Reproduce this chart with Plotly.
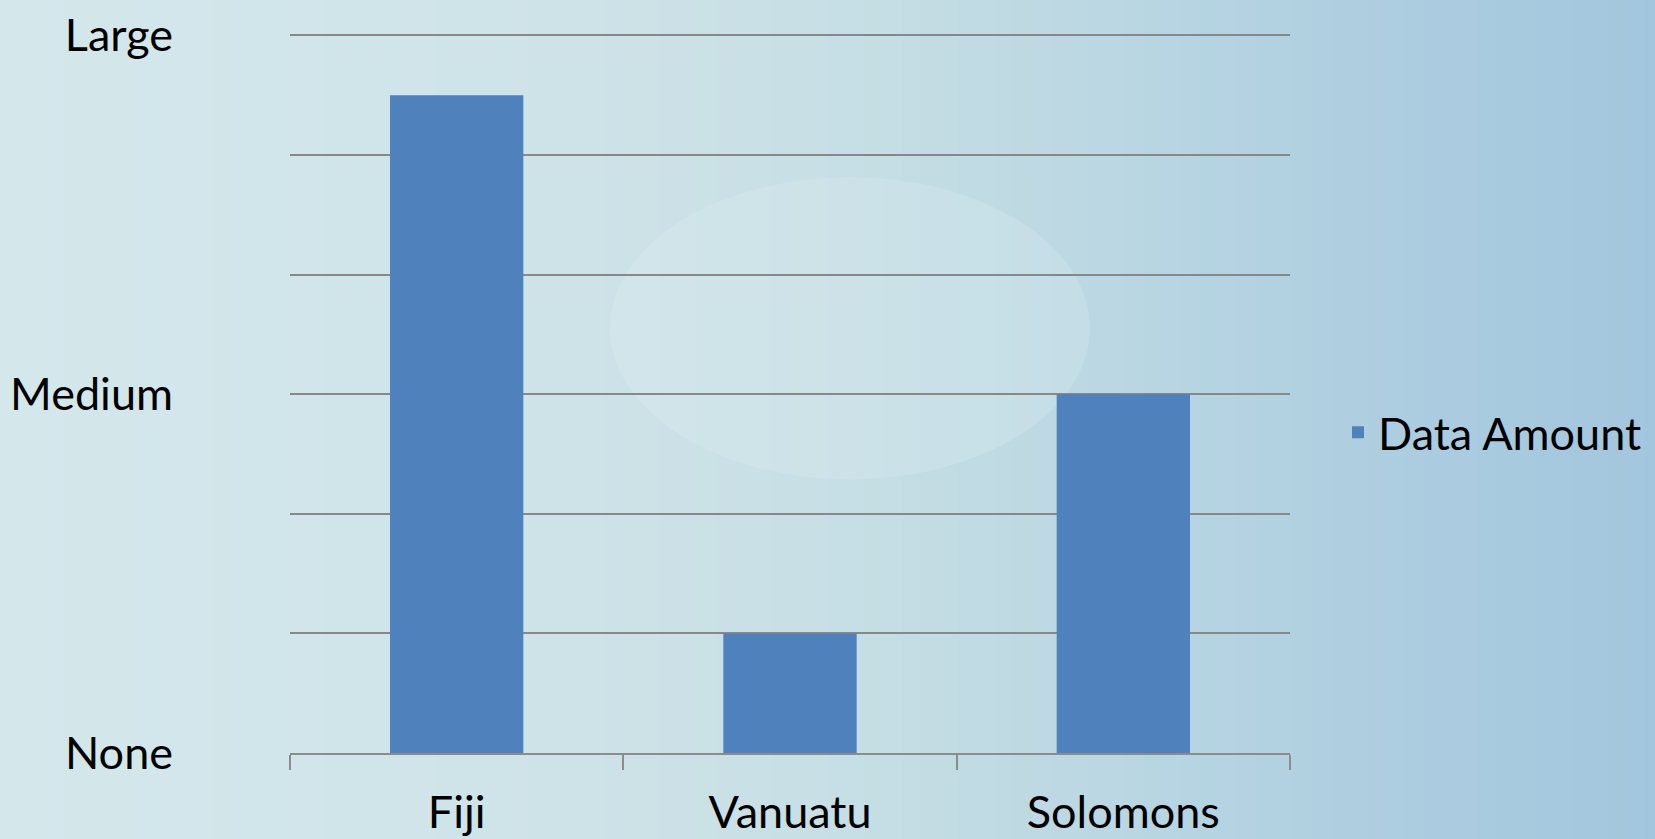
import plotly.graph_objects as go

countries = ["Fiji", "Vanuatu", "Solomons"]
data_amount = [5.5, 1, 3]
y_tickvals = [0, 1, 2, 3, 4, 5, 6]
y_ticktext = ["None", "", "", "Medium", "", "", "Large"]
series_name = "Data Amount"

W, H = 1655, 839
FONT = "Lato"
FS = 45

fig = go.Figure()
fig.add_trace(go.Bar(
    x=countries, y=data_amount, name=series_name,
    marker=dict(color="#4F81BD", line=dict(width=0)),
    showlegend=True,
))

# background gradient (decoration), in paper coordinates
stops = [(0.0, (212, 232, 236)), (0.35, (206, 227, 232)), (0.55, (196, 221, 228)),
         (0.72, (182, 212, 226)), (0.85, (172, 205, 224)), (1.0, (162, 198, 222))]
def col_at(t):
    for (a, ca), (b, cb) in zip(stops[:-1], stops[1:]):
        if a <= t <= b:
            f = (t - a) / (b - a)
            return "rgb(%d,%d,%d)" % tuple(round(ca[i] + (cb[i] - ca[i]) * f) for i in range(3))
    return "rgb(%d,%d,%d)" % stops[-1][1]

X0, X1 = -0.30, 1.375
N = 90
shapes = []
for i in range(N):
    a = X0 + (X1 - X0) * i / N
    b = X0 + (X1 - X0) * (i + 1) / N + 0.002
    shapes.append(dict(type="rect", xref="paper", yref="paper", layer="below",
                       x0=a, x1=b, y0=-0.2, y1=1.2,
                       line=dict(width=0), fillcolor=col_at((i + 0.5) / N)))
# soft lighter patch of the backdrop pattern
shapes.append(dict(type="circle", xref="paper", yref="paper", layer="below",
                   x0=0.32, x1=0.80, y0=0.38, y1=0.80,
                   line=dict(width=0), fillcolor="rgba(226,242,245,0.22)"))

fig.update_layout(
    width=W, height=H,
    margin=dict(l=290, r=365, t=33, b=86, autoexpand=False),
    paper_bgcolor="rgb(205,226,231)",
    plot_bgcolor="rgba(0,0,0,0)",
    shapes=shapes,
    bargap=0.6,
    font=dict(family=FONT, size=FS, color="black"),
    xaxis=dict(
        automargin=False,
        showline=True, linecolor="#8C8C8C", linewidth=1.5,
        ticks="outside", ticklen=15, tickcolor="#8C8C8C", tickwidth=1.5,
        tickson="boundaries", showgrid=False,
        tickfont=dict(family=FONT, size=FS, color="black"),
        ticklabelstandoff=19,
    ),
    yaxis=dict(
        automargin=False,
        range=[0, 6.02], tickvals=y_tickvals, ticktext=y_ticktext,
        showgrid=True, gridcolor="#888888", gridwidth=1.6,
        showline=False, zeroline=False, ticks="",
        tickfont=dict(family=FONT, size=FS, color="black"),
        ticklabelstandoff=116,
    ),
    legend=dict(
        x=1.048, xanchor="left", y=0.445, yanchor="middle",
        bgcolor="rgba(0,0,0,0)", font=dict(family=FONT, size=FS, color="black"),
    ),
)

fig.write_html("out.html", config={"displayModeBar": False},
               post_script="document.body.style.margin='0';document.body.style.padding='0';document.body.style.overflow='hidden';")
